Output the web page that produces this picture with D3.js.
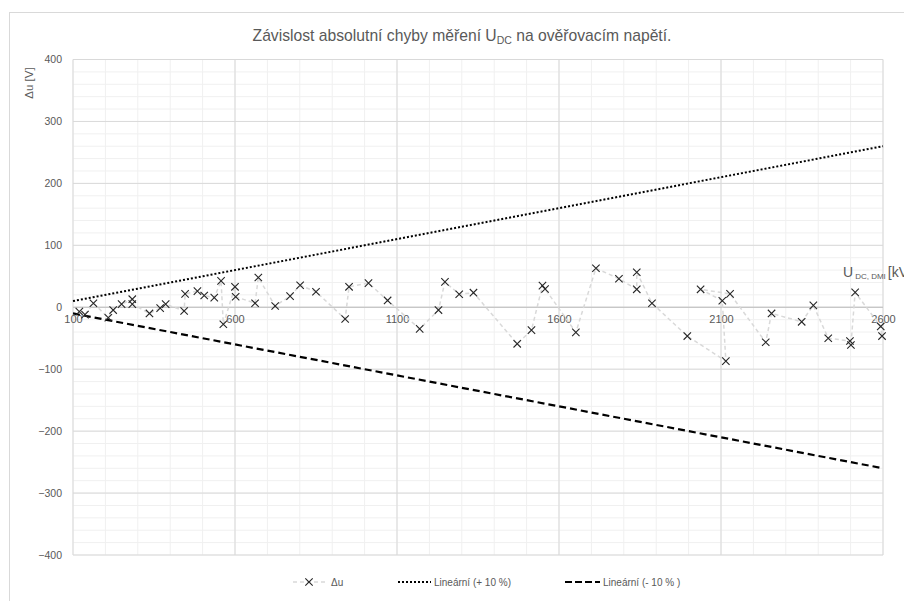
<!DOCTYPE html>
<html><head><meta charset="utf-8">
<script src="https://cdn.jsdelivr.net/npm/d3@7"></script>
<style>body{margin:0;background:#fff;overflow:hidden} svg{display:block}</style>
</head><body><svg id="c" width="904" height="601"></svg>
<script>
// ---- data ----
const uDC = [119.5,137,163,209,224,250,283,283,336,369,386,443,446,484,505,536,557,564,600,602,662,672,724,770,801,850,940,952,1012,1071,1170,1228,1248,1292,1336,1471,1515,1549,1557,1652,1714,1785,1840,1840,1887,1996,2115,2104,2037,2128,2238,2256,2349,2385,2431,2498,2501,2514,2593,2597];
const du  = [-7,-12,6.5,-17,-4.5,5,13,5,-10,-1.5,5,-6,21.5,26,19,15.5,42.5,-27.5,33,17,6.5,48,2,18,35.5,25,-19,33,39,11,-35,-4.5,41,21,23.5,-59,-37,35,29.5,-40.5,63,46,29,56.5,6.5,-46.5,-87,10.5,29,21.5,-56.5,-10,-23.5,3,-50,-54.5,-61,24,-31,-46.5];
const trendX = [100, 2600];
const trendPlus = [10, 260];
const trendMinus = [-10, -260];
const xTicks = [100, 600, 1100, 1600, 2100, 2600];
const yTicks = [-400, -300, -200, -100, 0, 100, 200, 300, 400];
const legendLabels = ["\u0394u", "Line\u00e1rn\u00ed (+ 10 %)", "Line\u00e1rn\u00ed (- 10 % )"];

// ---- layout ----
const svg = d3.select("#c");
const L = 73, R = 883, T = 59.5, B = 555;
const x = d3.scaleLinear().domain([100, 2600]).range([L, R]);
const y = d3.scaleLinear().domain([-400, 400]).range([B, T]);
const font = "'Liberation Sans', Arial, sans-serif";
const txt = "#595959";

// chart frame
svg.append("rect").attr("x", 9.5).attr("y", 12.5).attr("width", 1000).attr("height", 1000)
  .attr("fill", "none").attr("stroke", "#d9d9d9").attr("stroke-width", 1);

// minor grid
const g = svg.append("g");
g.selectAll(".mx").data(d3.range(100, 2601, 100)).enter().append("line")
  .attr("x1", d => x(d)).attr("x2", d => x(d)).attr("y1", T).attr("y2", B)
  .attr("stroke", "#f0f0f0").attr("stroke-width", 1);
g.selectAll(".my").data(d3.range(-400, 401, 20)).enter().append("line")
  .attr("y1", d => y(d)).attr("y2", d => y(d)).attr("x1", L).attr("x2", R)
  .attr("stroke", "#f0f0f0").attr("stroke-width", 1);
// major grid
g.selectAll(".Mx").data(xTicks).enter().append("line")
  .attr("x1", d => x(d)).attr("x2", d => x(d)).attr("y1", T).attr("y2", B)
  .attr("stroke", "#d9d9d9").attr("stroke-width", 1);
g.selectAll(".My").data(yTicks).enter().append("line")
  .attr("y1", d => y(d)).attr("y2", d => y(d)).attr("x1", L).attr("x2", R)
  .attr("stroke", "#d9d9d9").attr("stroke-width", 1);
// zero axis line
g.append("line").attr("x1", L).attr("x2", R).attr("y1", y(0)).attr("y2", y(0))
  .attr("stroke", "#bfbfbf").attr("stroke-width", 1.2);

// y axis labels
const yAxis = d3.axisLeft(y).tickValues(yTicks).tickSize(0).tickPadding(11);
const ya = svg.append("g").attr("transform", `translate(${L},0)`).call(yAxis);
ya.select(".domain").remove();
ya.selectAll("text").attr("fill", txt).style("font-family", font).style("font-size", "10.5px");

// x axis labels at zero line
const xAxis = d3.axisBottom(x).tickValues(xTicks).tickSize(0).tickPadding(8).tickFormat(d3.format("d"));
const xa = svg.append("g").attr("transform", `translate(0,${y(0)})`).call(xAxis);
xa.select(".domain").remove();
xa.selectAll("text").attr("fill", txt).style("font-family", font).style("font-size", "11px");

// trend lines
const tl = d3.line().x((d, i) => x(trendX[i])).y(d => y(d));
svg.append("path").attr("d", tl(trendPlus)).attr("fill", "none")
  .attr("stroke", "#000").attr("stroke-width", 2).attr("stroke-dasharray", "2,2");
svg.append("path").attr("d", tl(trendMinus)).attr("fill", "none")
  .attr("stroke", "#000").attr("stroke-width", 2.2).attr("stroke-dasharray", "7,4");

// data line
const dl = d3.line().x((d, i) => x(uDC[i])).y(d => y(d));
svg.append("path").attr("d", dl(du)).attr("fill", "none")
  .attr("stroke", "#d9d9d9").attr("stroke-width", 1.5).attr("stroke-dasharray", "4,3");

// markers
const s = 3.7;
function cross(sel, cx, cy) {
  sel.append("path").attr("d", `M${cx - s},${cy - s}L${cx + s},${cy + s}M${cx - s},${cy + s}L${cx + s},${cy - s}`)
    .attr("stroke", "#262626").attr("stroke-width", 1.1).attr("fill", "none");
}
const mk = svg.append("g");
du.forEach((v, i) => cross(mk, x(uDC[i]), y(v)));

// title
const title = svg.append("text").attr("x", 462).attr("y", 41).attr("text-anchor", "middle")
  .attr("fill", txt).style("font-family", font).style("font-size", "15.7px");
title.append("tspan").text("Z\u00e1vislost absolutn\u00ed chyby m\u011b\u0159en\u00ed U");
title.append("tspan").attr("dy", 3).style("font-size", "10.5px").text("DC");
title.append("tspan").attr("dy", -3).text(" na ov\u011b\u0159ovac\u00edm nap\u011bt\u00ed.");

// y title
svg.append("text").attr("transform", "translate(33,83) rotate(-90)").attr("text-anchor", "middle")
  .attr("fill", txt).style("font-family", font).style("font-size", "11.5px").text("\u0394u [V]");

// x title
const xt = svg.append("text").attr("x", 843).attr("y", 277).attr("fill", txt)
  .style("font-family", font).style("font-size", "14px");
xt.append("tspan").text("U");
xt.append("tspan").attr("dx", 2).attr("dy", 2).style("font-size", "8px").text("DC, DMI");
xt.append("tspan").attr("dx", 2).attr("dy", -2).text("[kV]");

// legend
const ly = 582;
const lg = svg.append("g").style("font-family", font).style("font-size", "10px");
lg.append("line").attr("x1", 293).attr("x2", 325).attr("y1", ly).attr("y2", ly)
  .attr("stroke", "#d9d9d9").attr("stroke-width", 1.5).attr("stroke-dasharray", "4,3");
cross(lg, 309, ly);
lg.append("text").attr("x", 331).attr("y", ly + 3.5).attr("fill", txt).text(legendLabels[0]);
lg.append("line").attr("x1", 398).attr("x2", 431).attr("y1", ly).attr("y2", ly)
  .attr("stroke", "#000").attr("stroke-width", 2).attr("stroke-dasharray", "2,2");
lg.append("text").attr("x", 434).attr("y", ly + 3.5).attr("fill", txt).text(legendLabels[1]);
lg.append("line").attr("x1", 565).attr("x2", 600).attr("y1", ly).attr("y2", ly)
  .attr("stroke", "#000").attr("stroke-width", 2.2).attr("stroke-dasharray", "7,3");
lg.append("text").attr("x", 603).attr("y", ly + 3.5).attr("fill", txt).text(legendLabels[2]);
</script></body></html>
